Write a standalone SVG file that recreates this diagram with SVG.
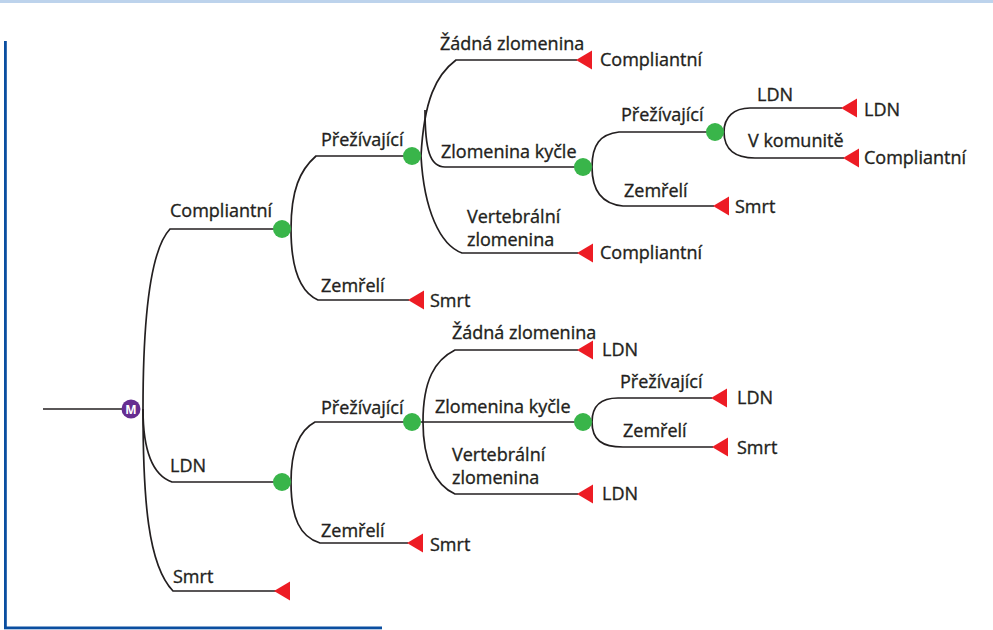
<svg xmlns="http://www.w3.org/2000/svg" xmlns:xlink="http://www.w3.org/1999/xlink" width="993" height="630" viewBox="0 0 993 630">
<style>
  .t { font-family: "Open Sans", "Noto Sans", "Liberation Sans", sans-serif; font-size: 18px; fill: #231f20; stroke: #231f20; stroke-width: 0.35; }
  .c { fill: none; stroke: #231f20; stroke-width: 1.7; }
  .ch { fill: #39b54a; }
  .tr { fill: #ed1c24; }
  .m { fill: #662d91; }
  .mt { font-family: "Open Sans", "Liberation Sans", sans-serif; font-size: 12px; font-weight: bold; fill: #ffffff; }
</style>
<defs>
  <path id="tri" d="M0,0 L16,-9.5 L16,9.5 Z"/>
</defs>
<rect x="0" y="0" width="993" height="630" fill="#ffffff"/>
<rect x="0" y="0" width="993" height="3" fill="#bdd3ec"/>
<g id="frame" fill="#0a4ea0">
  <rect x="4" y="41" width="2.8" height="588"/>
  <rect x="4" y="626.5" width="378" height="2.8"/>
</g>

<g id="connectors" class="c">
  <path d="M43,409 L122,409"/>
  <!-- root -->
  <path d="M143,409 C143,320 150,250 170,229 L282,229"/>
  <path d="M143,409 C143,450 152,475 172,482 L282,482"/>
  <path d="M143,409 C143,500 148,565 173,591 L276,591"/>
  <!-- upper chance 282,229 -->
  <path d="M291,229 C291,190 300,170 316,156 L412,156"/>
  <path d="M291,229 C291,268 300,292 318,300 L409,300"/>
  <!-- chance 412,156 -->
  <path d="M421,156 C424,100 436,75 456,60 L577,60"/>
  <path d="M425,110 C425,150 430,167 445,167 L583,167"/>
  <path d="M421,156 C424,210 440,245 462,253 L578,253"/>
  <!-- chance 583,167 -->
  <path d="M592,167 C592,145 600,134 619,132 L715,132"/>
  <path d="M592,167 C592,190 601,204 623,206 L714,206"/>
  <!-- chance 715,132 -->
  <path d="M724,132 C724,117 734,108 750,108 L842,108"/>
  <path d="M724,132 C724,150 736,158 755,158 L844,158"/>
  <!-- lower chance 282,482 -->
  <path d="M291,482 C291,450 300,430 315,422 L412,422"/>
  <path d="M291,482 C291,518 300,537 320,543 L408,543"/>
  <!-- chance 412,422 -->
  <path d="M423,422 C423,380 435,360 455,350 L578,350"/>
  <path d="M421,422 L583,422"/>
  <path d="M423,422 C423,460 435,485 455,494 L578,494"/>
  <!-- chance 583,422 -->
  <path d="M592,422 C592,406 601,398 618,398 L712,398"/>
  <path d="M592,422 C592,440 602,447 623,447 L713,447"/>
</g>

<g id="n-root">
  <circle class="m" cx="131" cy="409" r="9.5"/>
  <text class="mt" x="131" y="413.5" text-anchor="middle">M</text>
</g>

<g id="n-c1">
  <circle class="ch" cx="282" cy="229" r="9"/>
</g>
<g id="n-c2">
  <circle class="ch" cx="412" cy="156" r="9"/>
</g>
<g id="n-c3">
  <circle class="ch" cx="583" cy="167" r="9"/>
</g>
<g id="n-c4">
  <circle class="ch" cx="715" cy="132" r="9"/>
</g>
<g id="n-c5">
  <circle class="ch" cx="282" cy="482" r="9"/>
</g>
<g id="n-c6">
  <circle class="ch" cx="412" cy="422" r="9"/>
</g>
<g id="n-c7">
  <circle class="ch" cx="583" cy="422" r="9"/>
</g>

<g id="e1"><use href="#tri" xlink:href="#tri" class="tr" x="576" y="60"/><text class="t" x="600" y="66">Compliantní</text></g>
<g id="e2"><use href="#tri" xlink:href="#tri" class="tr" x="841" y="108"/><text class="t" x="864" y="116">LDN</text></g>
<g id="e3"><use href="#tri" xlink:href="#tri" class="tr" x="843" y="158"/><text class="t" x="864" y="164">Compliantní</text></g>
<g id="e4"><use href="#tri" xlink:href="#tri" class="tr" x="713" y="206"/><text class="t" x="735" y="213">Smrt</text></g>
<g id="e5"><use href="#tri" xlink:href="#tri" class="tr" x="577" y="253"/><text class="t" x="600" y="259">Compliantní</text></g>
<g id="e6"><use href="#tri" xlink:href="#tri" class="tr" x="408" y="300"/><text class="t" x="430" y="307">Smrt</text></g>
<g id="e7"><use href="#tri" xlink:href="#tri" class="tr" x="577" y="350"/><text class="t" x="602" y="356">LDN</text></g>
<g id="e8"><use href="#tri" xlink:href="#tri" class="tr" x="711" y="398"/><text class="t" x="737" y="404">LDN</text></g>
<g id="e9"><use href="#tri" xlink:href="#tri" class="tr" x="712" y="447"/><text class="t" x="737" y="454">Smrt</text></g>
<g id="e10"><use href="#tri" xlink:href="#tri" class="tr" x="577" y="494"/><text class="t" x="602" y="500">LDN</text></g>
<g id="e11"><use href="#tri" xlink:href="#tri" class="tr" x="407" y="543"/><text class="t" x="430" y="551">Smrt</text></g>
<g id="e12"><use href="#tri" xlink:href="#tri" class="tr" x="274" y="591"/></g>

<g id="labels">
  <text class="t" x="170" y="217">Compliantní</text>
  <text class="t" x="170" y="472">LDN</text>
  <text class="t" x="173" y="583">Smrt</text>
  <text class="t" x="321" y="146">Přežívající</text>
  <text class="t" x="321" y="292">Zemřelí</text>
  <text class="t" x="440" y="50">Žádná zlomenina</text>
  <text class="t" x="441" y="158">Zlomenina kyčle</text>
  <text class="t" x="467" y="223">Vertebrální</text>
  <text class="t" x="467" y="246">zlomenina</text>
  <text class="t" x="621" y="121">Přežívající</text>
  <text class="t" x="624" y="197">Zemřelí</text>
  <text class="t" x="757" y="101">LDN</text>
  <text class="t" x="748" y="147">V komunitě</text>
  <text class="t" x="321" y="414">Přežívající</text>
  <text class="t" x="321" y="537">Zemřelí</text>
  <text class="t" x="452" y="339">Žádná zlomenina</text>
  <text class="t" x="435" y="413">Zlomenina kyčle</text>
  <text class="t" x="452" y="461">Vertebrální</text>
  <text class="t" x="452" y="484">zlomenina</text>
  <text class="t" x="620" y="388">Přežívající</text>
  <text class="t" x="623" y="437">Zemřelí</text>
</g>
</svg>
